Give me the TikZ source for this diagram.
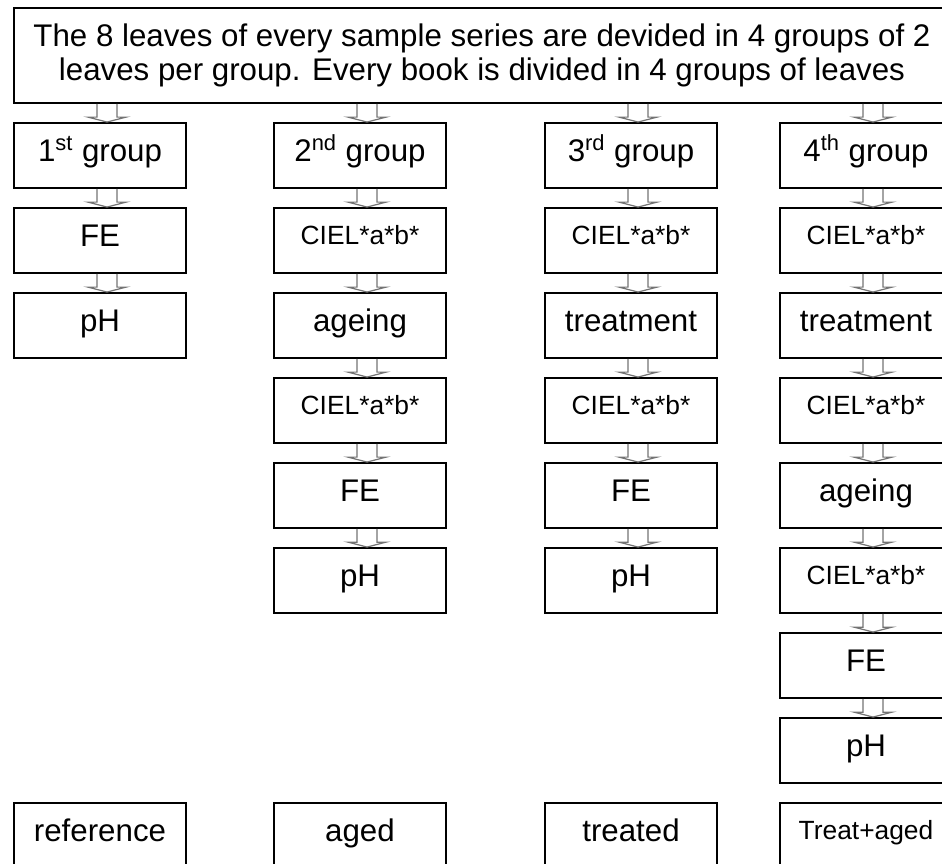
\documentclass[tikz,border=0pt]{standalone}
\usepackage{fontspec}
\setmainfont{Liberation Sans}
\usepackage{tikz}
\usetikzlibrary{calc}

\newcommand{\bigtext}{\fontsize{17.8}{19.8}\selectfont}
\newcommand{\smalltext}{\fontsize{15}{18}\selectfont}
\newcommand{\flowarrow}[2]{%
  \draw[hollowarrow] let \p1=(#1.south), \p2=(#2.north) in
    (\x2-1.7pt,\y1) -- (\x2-1.7pt,\y2+2.8pt) -- (\x2-6.8pt,\y2+2.8pt) -- (\x2+4pt,\y2)
    -- (\x2+14.8pt,\y2+2.8pt) -- (\x2+9.7pt,\y2+2.8pt) -- (\x2+9.7pt,\y1);}

\tikzset{
  stepbox/.style={draw=black, line width=1.1pt, rectangle, inner sep=0pt,
    minimum width=3.44cm, minimum height=1.3cm, font=\bigtext,
    text height=0.72em, text depth=0.05em},
  smallbox/.style={stepbox, font=\smalltext, text depth=0.3em},
  hollowarrow/.style={draw=black!55, line width=0.7pt, line join=miter}
}

\begin{document}
\begin{tikzpicture}[x=0.02cm, y=-0.02cm]
            \clip (0,0) rectangle (942,863);
            \node[stepbox, minimum width=18.72cm, minimum height=1.9cm, align=center,
              text height=, text depth=] (intro) at (482,55.5)
              {The 8 leaves of every sample series are devided in 4 groups of 2\\
               leaves per group. Every book is divided in 4 groups of leaves};
            % first group
            \node[stepbox] (g1) at (100,155.5) {1\textsuperscript{st} group};
            \node[stepbox] (fe1) at (100,240.5) {FE};
            \node[stepbox] (ph1) at (100,325.5) {pH};
            \node[stepbox] (res1) at (100,835.5) {reference};
            % second group
            \node[stepbox] (g2) at (360,155.5) {2\textsuperscript{nd} group};
            \node[smallbox] (cie2a) at (360,240.5) {CIEL*a*b*};
            \node[stepbox] (age2) at (360,325.5) {ageing};
            \node[smallbox] (cie2b) at (360,410.5) {CIEL*a*b*};
            \node[stepbox] (fe2) at (360,495.5) {FE};
            \node[stepbox] (ph2) at (360,580.5) {pH};
            \node[stepbox] (res2) at (360,835.5) {aged};
            % third group
            \node[stepbox] (g3) at (631,155.5) {3\textsuperscript{rd} group};
            \node[smallbox] (cie3a) at (631,240.5) {CIEL*a*b*};
            \node[stepbox] (tr3) at (631,325.5) {treatment};
            \node[smallbox] (cie3b) at (631,410.5) {CIEL*a*b*};
            \node[stepbox] (fe3) at (631,495.5) {FE};
            \node[stepbox] (ph3) at (631,580.5) {pH};
            \node[stepbox] (res3) at (631,835.5) {treated};
            % fourth group
            \node[stepbox] (g4) at (866,155.5) {4\textsuperscript{th} group};
            \node[smallbox] (cie4a) at (866,240.5) {CIEL*a*b*};
            \node[stepbox] (tr4) at (866,325.5) {treatment};
            \node[smallbox] (cie4b) at (866,410.5) {CIEL*a*b*};
            \node[stepbox] (age4) at (866,495.5) {ageing};
            \node[smallbox] (cie4c) at (866,580.5) {CIEL*a*b*};
            \node[stepbox] (fe4) at (866,665.5) {FE};
            \node[stepbox] (ph4) at (866,750.5) {pH};
            \node[smallbox] (res4) at (866,835.5) {Treat+aged};
            % arrows
            \foreach \a/\b in {intro/g1, g1/fe1, fe1/ph1,
                intro/g2, g2/cie2a, cie2a/age2, age2/cie2b, cie2b/fe2, fe2/ph2,
                intro/g3, g3/cie3a, cie3a/tr3, tr3/cie3b, cie3b/fe3, fe3/ph3,
                intro/g4, g4/cie4a, cie4a/tr4, tr4/cie4b, cie4b/age4, age4/cie4c,
                cie4c/fe4, fe4/ph4}
              \flowarrow{\a}{\b};
        \end{tikzpicture}
\end{document}
